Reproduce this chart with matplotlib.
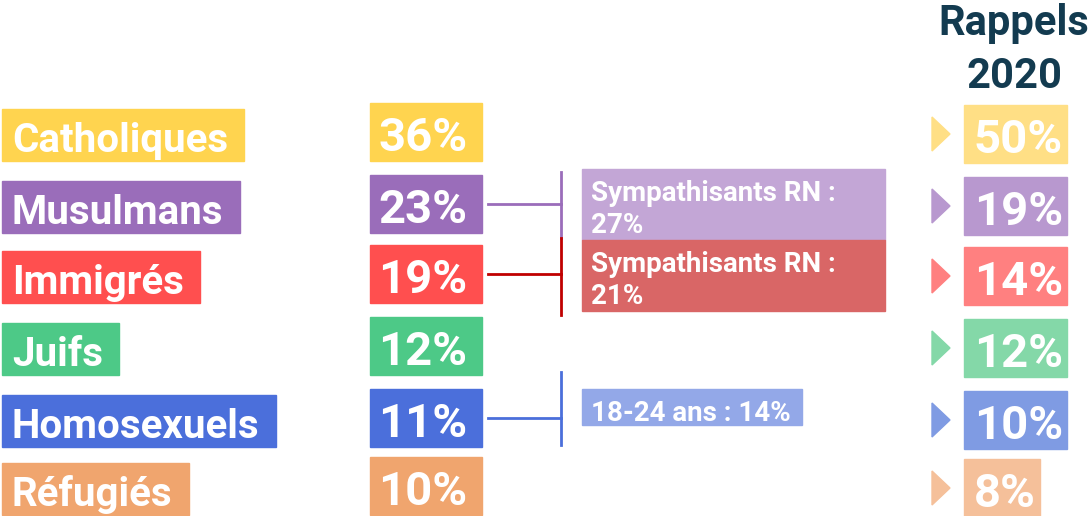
import matplotlib
matplotlib.use('Agg')
import matplotlib.pyplot as plt
from matplotlib.patches import Rectangle, Polygon

# data
categories = ['Catholiques', 'Musulmans', 'Immigrés', 'Juifs', 'Homosexuels', 'Réfugiés']
values_now = [36, 23, 19, 12, 11, 10]
values_2020 = [50, 19, 14, 12, 10, 8]
sub_rows = [1, 2, 4]
sub_texts = ['Sympathisants RN :\n27%', 'Sympathisants RN :\n21%', '18-24 ans : 14%']
title_right = ['Rappels', '2020']

# styles
main_colors = ['#FFD44F', '#9A6DBA', '#FF4F4F', '#4DC987', '#4B6FDB', '#F0A56E']
light_colors = ['#FFDF85', '#B898CF', '#FF8080', '#84D8A8', '#7F9BE3', '#F5C09A']
sub_colors = ['#C3A6D6', '#D96666', '#93A8E8']
line_colors = ['#9A6DBA', '#C00000', '#4B6FDB']
FONT = 'Roboto'

W, H = 1089, 516
fig = plt.figure(figsize=(W / 100, H / 100), dpi=100)
ax = fig.add_axes([0, 0, 1, 1])
ax.set_xlim(0, W)
ax.set_ylim(H, 0)
ax.axis('off')
fig.canvas.draw()
renderer = fig.canvas.get_renderer()


def text_width(t):
    return t.get_window_extent(renderer=renderer).width


row_bottom = [161, 233, 303, 375, 447, 515]

for i, cat in enumerate(categories):
    b = row_bottom[i]
    # category label box
    t = ax.text(12, b - 9, cat, fontsize=29, fontweight='bold', color='white',
                family=FONT, va='baseline', ha='left', zorder=3)
    w = text_width(t)
    ax.add_patch(Rectangle((2, b - 52), w + 26, 52, color=main_colors[i], zorder=2))

    # current value box
    ax.text(378, b - 10, f'{values_now[i]}%', fontsize=34, fontweight='bold',
            color='white', family=FONT, va='baseline', ha='left', zorder=3)
    ax.add_patch(Rectangle((370, b - 58), 112, 58, color=main_colors[i], zorder=2))

    # 2020 value box
    b2 = b + 2
    t2 = ax.text(974, b2 - 10, f'{values_2020[i]}%', fontsize=34, fontweight='bold',
                 color='white', family=FONT, va='baseline', ha='left', zorder=3)
    w2 = text_width(t2)
    ax.add_patch(Rectangle((964, b2 - 58), w2 + 14, 58, color=light_colors[i], zorder=2))
    yc = b2 - 29
    ax.add_patch(Polygon([(932, yc - 17), (950, yc), (932, yc + 17)],
                         closed=True, color=light_colors[i], zorder=2))

for line, base in zip(title_right, [35, 88]):
    ax.text(1014, base, line, fontsize=30, fontweight='bold', color='#133B50',
            family=FONT, ha='center', va='baseline')

# sub-group annotations
sub_boxes = [(169, 240), (240, 311), (389, 425)]
sub_vlines = [(172, 238), (238, 315), (372, 445)]
for k, r in enumerate(sub_rows):
    yc = row_bottom[r] - 29
    ax.plot([488, 561], [yc, yc], color=line_colors[k], lw=2, zorder=2)
    v0, v1 = sub_vlines[k]
    ax.plot([561, 561], [v0, v1], color=line_colors[k], lw=2, zorder=2)
    y0, y1 = sub_boxes[k]
    lines = sub_texts[k].split('\n')
    if len(lines) == 1:
        t = ax.text(591, y1 - 4, lines[0], fontsize=20, fontweight='bold',
                    color='white', family=FONT, ha='left', va='baseline', zorder=3)
        w = text_width(t)
        ax.add_patch(Rectangle((582, y0), w + 20, y1 - y0, color=sub_colors[k], zorder=2))
    else:
        for j, line in enumerate(lines):
            ax.text(591, y0 + 32 + 32 * j, line, fontsize=20, fontweight='bold',
                    color='white', family=FONT, ha='left', va='baseline', zorder=3)
        ax.add_patch(Rectangle((582, y0), 303, y1 - y0, color=sub_colors[k], zorder=2))

fig.savefig('out.png', dpi=100)
